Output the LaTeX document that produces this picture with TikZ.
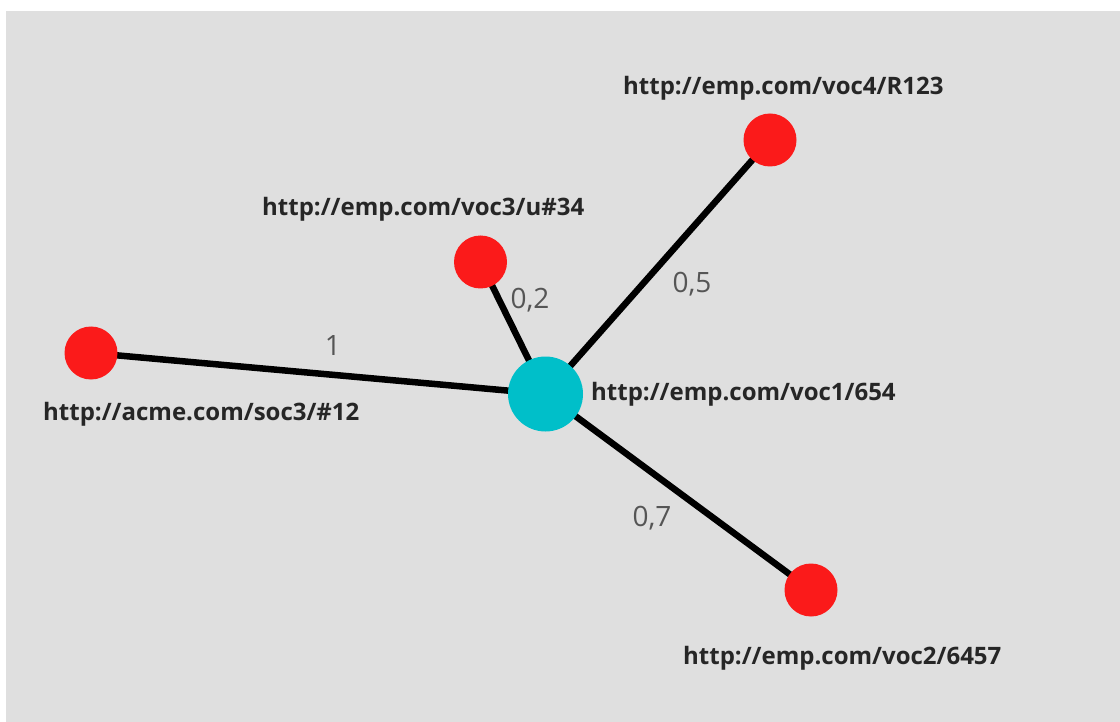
\documentclass[tikz,border=0pt]{standalone}
\usepackage{fontspec}
\setmainfont{Open Sans}
\definecolor{bgc}{HTML}{DFDFDF}
\definecolor{redn}{HTML}{FB1A1A}
\definecolor{cyann}{HTML}{00BFC9}
\definecolor{elab}{HTML}{555555}
\begin{document}
\begin{tikzpicture}[x=1pt,y=-1pt,
  leaf/.style={circle,fill=redn,minimum size=53pt,inner sep=0pt},
  hub/.style={circle,fill=cyann,minimum size=75pt,inner sep=0pt},
  uri/.style={inner sep=0pt,font=\fontsize{24}{28}\selectfont\bfseries,text=black!85},
  wt/.style={inner sep=0pt,font=\fontsize{28}{32}\selectfont,text=elab},
  link/.style={line width=6.5pt,black}]
\useasboundingbox (0,0) rectangle (1120,722);
\fill[white] (0,0) rectangle (1120,722);
\fill[bgc] (6,11) rectangle (1120,722);
\coordinate (c) at (545.5,394);
\coordinate (a) at (91,353);
\coordinate (u) at (480.5,262);
\coordinate (r) at (770,140);
\coordinate (s) at (811,590);
\draw[link] (c) -- (a);
\draw[link] (c) -- (u);
\draw[link] (c) -- (r);
\draw[link] (c) -- (s);
\node[hub] (nc) at (c) {};
\node[leaf] (na) at (a) {};
\node[leaf] (nu) at (u) {};
\node[leaf] (nr) at (r) {};
\node[leaf] (ns) at (s) {};
\node[uri,anchor=base west] (lc) at (591,400) {http://emp.com/voc1/654};
\node[uri,anchor=base west] (la) at (43,420) {http://acme.com/soc3/\#12};
\node[uri,anchor=base west] (lr) at (623,95) {http://emp.com/voc4/R123};
\node[uri,anchor=base west] (lu) at (262,216) {http://emp.com/voc3/u\#34};
\node[uri,anchor=base west] (ls) at (683,664) {http://emp.com/voc2/6457};
\node[wt] (w1) at (333,346) {1};
\node[wt] (w2) at (530,300) {0,2};
\node[wt] (w5) at (692,284) {0,5};
\node[wt] (w7) at (652,518) {0,7};
\end{tikzpicture}
\end{document}
